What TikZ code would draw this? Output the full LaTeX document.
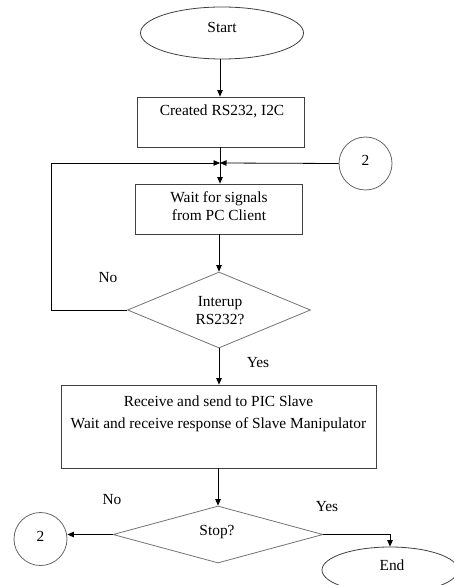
\documentclass[tikz,border=0pt]{standalone}
\usepackage{fontspec}
\setmainfont{Liberation Serif}
\usetikzlibrary{shapes.geometric,arrows.meta}

\begin{document}
\begin{tikzpicture}[x=1pt,y=-1pt,
  shapeline/.style={draw=black!75,line width=0.8pt},
  term/.style={shapeline,ellipse,inner sep=0pt},
  procbox/.style={shapeline,rectangle,inner sep=0pt},
  decision/.style={draw=black!55,line width=0.8pt,diamond,inner sep=0pt},
  connector/.style={draw=black!60,line width=0.8pt,circle,inner sep=0pt,minimum size=53pt},
  conn/.style={draw=black,line width=0.8pt,-{Triangle[length=6.5pt,width=5.5pt]}},
  plain/.style={draw=black,line width=0.8pt},
  txt/.style={font=\fontsize{15.4}{18}\selectfont,align=center,inner sep=0pt}
]
\useasboundingbox (0,0) rectangle (453,585);

% shapes
\node[term, minimum width=163pt, minimum height=52pt] (start) at (222,33) {};
\node[procbox, minimum width=167pt, minimum height=50pt] (init) at (221,122) {};
\node[procbox, minimum width=167pt, minimum height=50pt] (wait) at (219,209) {};
\node[decision, minimum width=183pt, minimum height=76pt] (irq) at (219,310) {};
\node[procbox, minimum width=315pt, minimum height=83pt] (relay) at (218.5,426.5) {};
\node[decision, minimum width=210pt, minimum height=57pt] (stop) at (218,534.5) {};
\node[connector] (c2top) at (365.5,163.5) {};
\node[connector] (c2bot) at (40.5,539) {};
\node[term, minimum width=136pt, minimum height=46pt] (end) at (390,570) {};

% texts
\node[txt] (tstart) at (222,27.5) {Start};
\node[txt] (tinit) at (222,111.5) {Created RS232, I2C};
\node[txt] (twait) at (219,206.5) {Wait for signals\\from PC Client};
\node[txt] (tirq) at (220,311) {Interup\\RS232?};
\node[txt] (trelay1) at (218.5,401.5) {Receive and send to PIC Slave};
\node[txt] (trelay2) at (218.5,424.5) {Wait and receive response of Slave Manipulator};
\node[txt] (tstop) at (217,532.5) {Stop?};
\node[txt] (tend) at (392,565.5) {End};
\node[txt] (t2a) at (365.5,160.5) {2};
\node[txt] (t2b) at (40.5,536.5) {2};
\node[txt] (no1) at (108,277.5) {No};
\node[txt] (yes1) at (258,362.5) {Yes};
\node[txt] (no2) at (112,499.5) {No};
\node[txt] (yes2) at (327,506.5) {Yes};

% junction where the loop-backs rejoin
\coordinate (J) at (220,163);
\coordinate (L) at (51,163);

% connectors
\draw[conn] (start.south -| J) -- (init.north -| J);
\draw[conn] (init.south -| J) -- (wait.north -| J);
\draw[conn] (L) -- (J);
\draw[conn] (c2top.west) -- (J);
\draw[plain] (irq.west) -| (L);
\draw[conn] (wait.south -| irq.north) -- (irq.north);
\draw[conn] (irq.south) -- (irq.south |- relay.north);
\draw[conn] (relay.south -| stop.north) -- (stop.north);
\draw[conn] (stop.west) -- (c2bot.east |- stop.west);
\draw[conn] (stop.east) -| (end.north);
\end{tikzpicture}
\end{document}
